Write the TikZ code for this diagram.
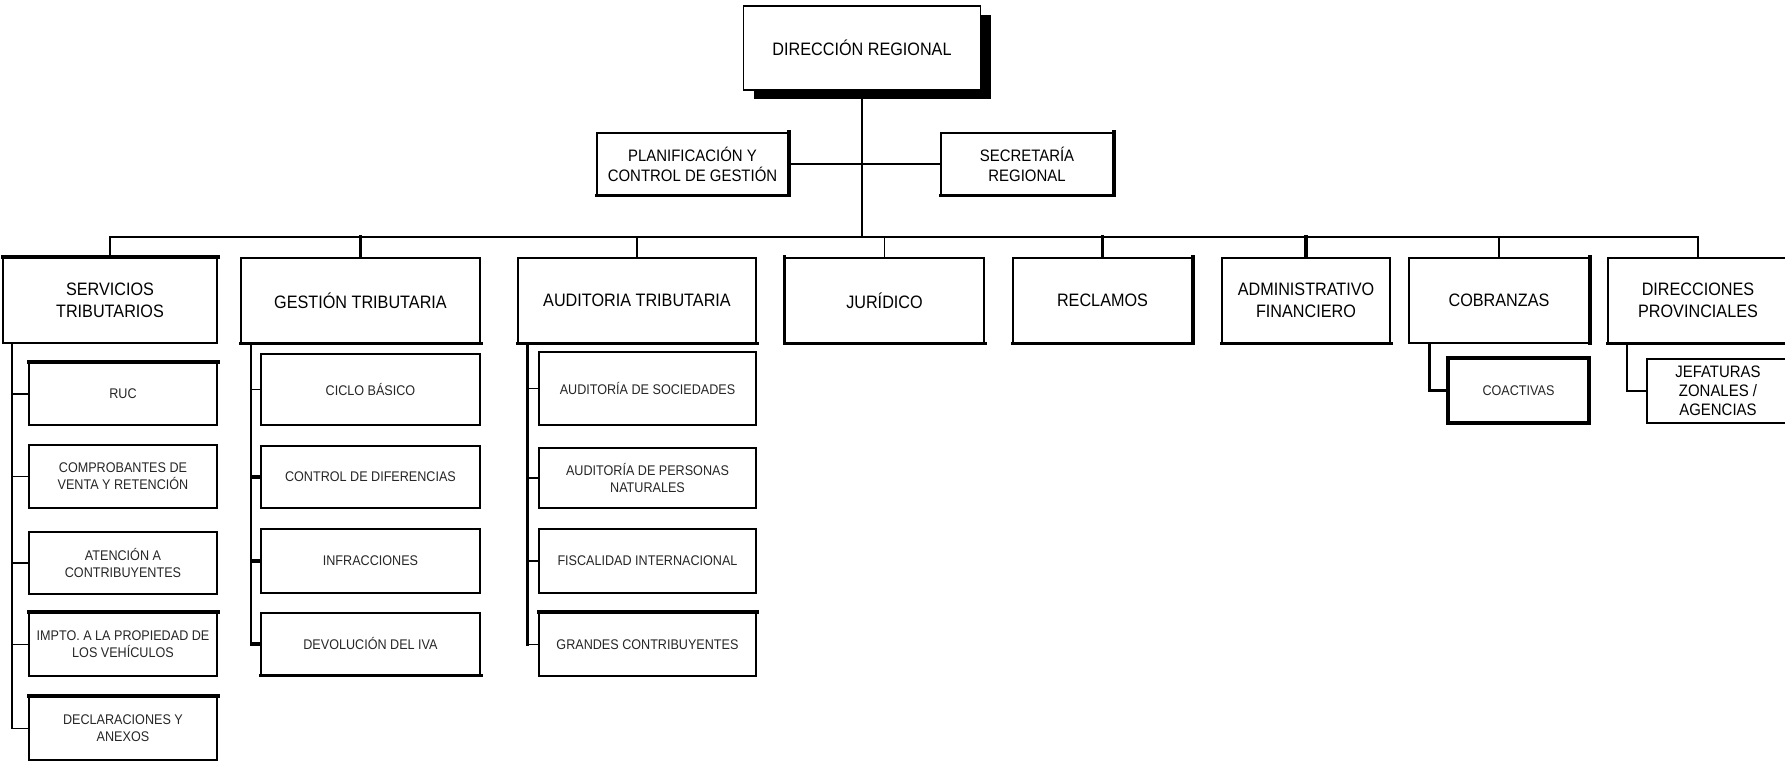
\documentclass[tikz,border=0pt]{standalone}
\usepackage{fontspec}
\setmainfont{Liberation Sans}[FakeStretch=0.9]
\usetikzlibrary{shadows}
\tikzset{
  box/.style={draw, line width=0.8pt, inner sep=0pt, align=center, fill=white},
  unit/.style={box, minimum height=42.5pt, font=\fontsize{9}{11}\selectfont},
  staff/.style={box, minimum height=31pt, font=\fontsize{8.3}{10}\selectfont},
  sub/.style={box, font=\fontsize{7}{8.5}\selectfont, text=black!85},
  link/.style={line width=0.8pt},
  heavy/.style={line width=1.7pt, line cap=rect},
}
\begin{document}
\begin{tikzpicture}[x=0.5pt, y=-0.5pt]
	\useasboundingbox (0,0) rectangle (1785,763);
	% top
	\node (dir) [unit, minimum width=118.5pt, minimum height=42pt,
	  drop shadow={fill=black, opacity=1, shadow xshift=5pt, shadow yshift=-4.5pt}] at (862,48) {DIRECCIÓN REGIONAL};
	\node (plan) [staff, minimum width=95.5pt] at (692.5,164) {PLANIFICACIÓN Y\\CONTROL DE GESTIÓN};
	\node (secr) [staff, minimum width=86pt] at (1027,164) {SECRETARÍA\\REGIONAL};
	\coordinate (bus) at (862,237);
	\draw[link] (dir.south) -- (bus);
	\draw[link] (plan.east) -- (secr.west);
	% departments
	\foreach \n/\x/\w/\t in {serv/110/107/{SERVICIOS\\TRIBUTARIOS}, gest/360.5/119.5/{GESTIÓN TRIBUTARIA},
	    audi/637/119/{AUDITORIA TRIBUTARIA}, juri/884.5/99.5/{JURÍDICO}, recl/1102.5/89.5/{RECLAMOS},
	    admi/1306/84/{ADMINISTRATIVO\\FINANCIERO}, cobr/1499/90/{COBRANZAS}, dirp/1698/90/{DIRECCIONES\\PROVINCIALES}}
	  {
	      \node (\n) [unit, minimum width=\w pt] at (\x,300.5) {\t};
	  }
	\draw[link] (serv.north) -- (serv.north |- bus) -- (dirp.north |- bus) -- (dirp.north);
	\foreach \n in {audi,juri,cobr}
	  \draw[link] (\n.north) -- (\n.north |- bus);
	\foreach \n in {gest,recl,admi}
	  \draw[heavy] (\n.north) -- (\n.north |- bus);
	% servicios tributarios
	\foreach \n/\y/\h/\t in {ruc/394/31/{RUC}, comp/476.5/31.5/{COMPROBANTES DE\\VENTA Y RETENCIÓN},
	    aten/563/31/{ATENCIÓN A\\CONTRIBUYENTES}, impt/644.5/31.5/{IMPTO. A LA PROPIEDAD DE\\LOS VEHÍCULOS},
	    decl/728.5/31.5/{DECLARACIONES Y\\ANEXOS}}
	  {
	      \node (\n) [sub, minimum width=94pt, minimum height=\h pt] at (123,\y) {\t};
	  }
	\coordinate (servbar) at ([xshift=5pt]serv.south west);
	\draw[link] (servbar) |- (decl.west);
	\foreach \n in {ruc,comp,aten,impt}
	  \draw[link] (\n.west) -- (\n.west -| servbar);
	% gestion tributaria
	\foreach \n/\y/\h/\t in {cicl/389.5/35.5/{CICLO BÁSICO}, cdif/477/31/{CONTROL DE DIFERENCIAS},
	    infr/561/32/{INFRACCIONES}, devo/644/31/{DEVOLUCIÓN DEL IVA}}
	  {
	      \node (\n) [sub, minimum width=109.5pt, minimum height=\h pt] at (370.5,\y) {\t};
	  }
	\coordinate (gestbar) at ([xshift=5.5pt]gest.south west);
	\draw[link] (gestbar) -- (gestbar |- devo.west);
	\draw[link] (cicl.west) -- (cicl.west -| gestbar);
	\foreach \n in {cdif,infr,devo}
	  \draw[heavy] (\n.west) -- (\n.west -| gestbar);
	% auditoria tributaria
	\foreach \n/\y/\h/\t in {asoc/388.5/36.5/{AUDITORÍA DE SOCIEDADES}, aper/478/30/{AUDITORÍA DE PERSONAS\\NATURALES},
	    fisc/561/32/{FISCALIDAD INTERNACIONAL}, gran/644.5/31.5/{GRANDES CONTRIBUYENTES}}
	  {
	      \node (\n) [sub, minimum width=108.5pt, minimum height=\h pt] at (647.5,\y) {\t};
	  }
	\coordinate (audibar) at ([xshift=5pt]audi.south west);
	\draw[heavy] (audibar) -- (audibar |- gran.west);
	\foreach \n in {asoc,aper,fisc,gran}
	  \draw[link] (\n.west) -- (\n.west -| audibar);
	% cobranzas, provincias
	\node (coac) [sub, line width=1.7pt, minimum width=70.5pt, minimum height=32.5pt] at (1518.5,390.5) {COACTIVAS};
	\node (jefa) [staff, minimum width=71pt, minimum height=32pt, font=\fontsize{8.3}{9.5}\selectfont] at (1718,391) {JEFATURAS\\ZONALES /\\AGENCIAS};
	\coordinate (cobrbar) at ([xshift=10.5pt]cobr.south west);
	\coordinate (dirpbar) at ([xshift=10pt]dirp.south west);
	\draw[heavy] (cobrbar) |- (coac.west);
	\draw[link] (dirpbar) |- (jefa.west);
	% heavier edges
	\foreach \n in {serv,ruc,impt,decl,gran}
	  \draw[heavy] (\n.north west) -- (\n.north east);
	\foreach \n in {gest,audi,admi,dirp,devo}
	  \draw[heavy] (\n.south west) -- (\n.south east);
	\foreach \n in {plan,secr,recl}
	  \draw[heavy] (\n.north east) -- (\n.south east) -- (\n.south west);
	\draw[heavy] (cobr.north east) -- (cobr.south east);
	\draw[heavy] (juri.north west) -- (juri.south west) -- (juri.south east);
\end{tikzpicture}
\end{document}
